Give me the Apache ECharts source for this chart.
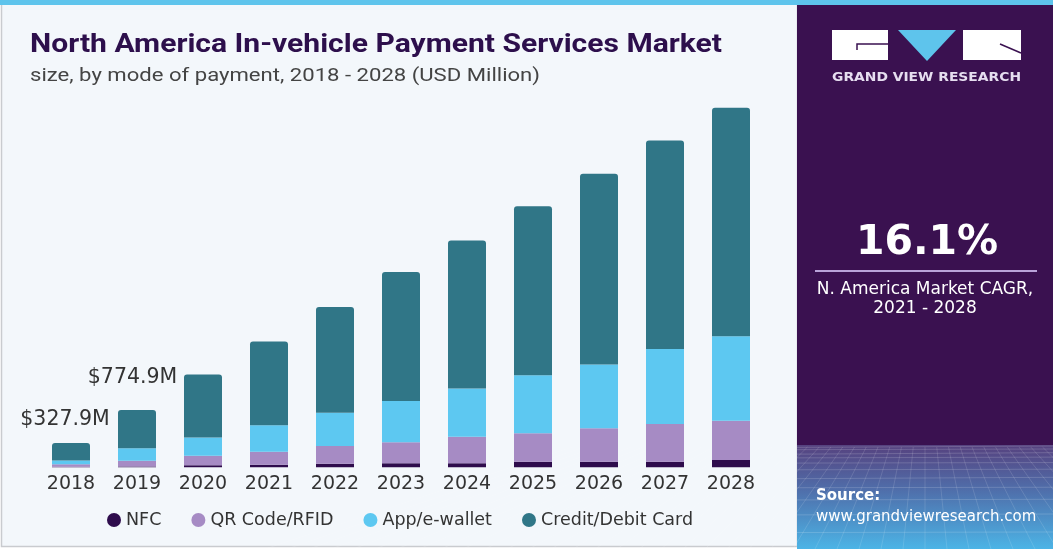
<!DOCTYPE html>
<html>
<head>
<meta charset="utf-8">
<script src="https://cdn.jsdelivr.net/npm/echarts@6/dist/echarts.min.js"></script>
<style>
  html, body { margin: 0; padding: 0; background: #ffffff; }
  #chart { width: 1053px; height: 549px; }
</style>
</head>
<body>
<div id="chart"></div>
<script>
// ---- data ----
const years = ['2018','2019','2020','2021','2022','2023','2024','2025','2026','2027','2028'];
const seriesNames = ['NFC', 'QR Code/RFID', 'App/e-wallet', 'Credit/Debit Card'];
const nfc    = [6.2,   9.5,  27,  35,  49,  54,  54,  76,  76,  76,  99];
const qrRfid = [35.8, 79.8, 130, 176, 239, 284, 359, 383, 451, 509, 531];
const appWallet = [51.2, 167.6, 246, 357, 450, 558, 653, 787, 864, 1013, 1143];
const creditDebit = [234.7, 518.0, 853, 1134, 1431, 1746, 2002, 2282, 2579, 2822, 3087];
const totalLabels = ['$327.9M', '$774.9M'];
const cagrValue = '16.1%';
const cagrText = ['N. America Market CAGR,', '2021 - 2028'];
const titleText = 'North America In-vehicle Payment Services Market';
const subtitleText = 'size, by mode of payment, 2018 - 2028 (USD Million)';

// ---- helpers ----
const mctx = document.createElement('canvas').getContext('2d');
function fitScale(text, font, targetWidth) {
  mctx.font = font;
  const w = mctx.measureText(text).width;
  return w > 0 ? targetWidth / w : 1;
}

const colors = ['#2e0c4c', '#a68bc4', '#5dc8f1', '#307687'];
const labelOffsets = [[-6, -8], [-4.5, -17]];

const creditData = creditDebit.map((v, i) => {
  if (i < totalLabels.length) {
    return {
      value: v,
      label: {
        show: true, position: 'top', formatter: totalLabels[i],
        offset: labelOffsets[i], color: '#333333',
        fontSize: 20.5, fontFamily: 'DejaVu Sans'
      }
    };
  }
  return v;
});

const titleFont = 'bold 26px Roboto';
const subFont = '19px Roboto';
const logoFont = 'bold 13px "DejaVu Sans"';

// decorative perspective grid for the lower right panel
const gridLines = [];
(function () {
  const x0 = 797, x1 = 1053, yTop = 447, yBot = 549;
  let y = yTop, step = 3;
  while (y < yBot) {
    gridLines.push({ type: 'line', z: -6, silent: true,
      shape: { x1: x0, y1: y + 0.5 * Math.sin(y), x2: x1, y2: y - 1 },
      style: { stroke: 'rgba(255,255,255,0.16)', lineWidth: 1 } });
    y += step; step *= 1.22;
  }
  const vx = 925, vy = 330;
  for (let k = -30; k <= 30; k++) {
    const bx = vx + k * 22;
    const t = (yTop - vy) / (yBot - vy);
    const tx = vx + (bx - vx) * t;
    gridLines.push({ type: 'line', z: -6, silent: true,
      shape: { x1: tx, y1: yTop, x2: bx, y2: yBot },
      style: { stroke: 'rgba(255,255,255,0.13)', lineWidth: 1 } });
  }
})();

const chart = echarts.init(document.getElementById('chart'), null, { renderer: 'canvas' });

const option = {
  animation: false,
  backgroundColor: '#ffffff',
  graphic: [
    // left panel
    { type: 'rect', z: -10, shape: { x: 1.5, y: 4, width: 796, height: 542.5 },
      style: { fill: '#f3f7fb', stroke: '#c9cbcf', lineWidth: 1.5 } },
    // right panel
    { type: 'rect', z: -9, shape: { x: 797, y: 0, width: 256, height: 549 },
      style: { fill: '#3a1150' } },
    { type: 'rect', z: -8, shape: { x: 797, y: 445, width: 256, height: 104 },
      style: { fill: new echarts.graphic.LinearGradient(0, 0, 0, 1, [
        { offset: 0, color: '#56427f' },
        { offset: 0.45, color: '#4f70ac' },
        { offset: 1, color: '#4cb4e6' }
      ]) } },
    { type: 'group', z: -6, children: gridLines },
    // top strip
    { type: 'rect', z: -5, shape: { x: 0, y: 0, width: 1053, height: 5 },
      style: { fill: '#5ec4ec' } },
    // logo
    { type: 'rect', z: 5, shape: { x: 832, y: 30, width: 56, height: 30 }, style: { fill: '#ffffff' } },
    { type: 'polyline', z: 6, shape: { points: [[888, 44], [857, 44], [857, 50]] },
      style: { stroke: '#3a1150', lineWidth: 1.5, fill: null } },
    { type: 'polygon', z: 5, shape: { points: [[898, 30], [956, 30], [927, 61]] }, style: { fill: '#5ec4ec' } },
    { type: 'rect', z: 5, shape: { x: 963, y: 30, width: 58, height: 30 }, style: { fill: '#ffffff' } },
    { type: 'line', z: 6, shape: { x1: 1000, y1: 44, x2: 1021, y2: 53 },
      style: { stroke: '#3a1150', lineWidth: 1.5 } },
    { type: 'text', z: 5, x: 832, y: 78, scaleX: fitScale('GRAND VIEW RESEARCH', logoFont, 189), originX: 0,
      style: { text: 'GRAND VIEW RESEARCH', font: logoFont, fill: '#e6def0',
        textAlign: 'left', textVerticalAlign: 'middle' } },
    // CAGR
    { type: 'text', z: 5, x: 927, y: 243,
      style: { text: cagrValue, font: 'bold 41px "DejaVu Sans"', fill: '#ffffff',
        textAlign: 'center', textVerticalAlign: 'middle' } },
    { type: 'line', z: 5, shape: { x1: 815, y1: 271, x2: 1037, y2: 271 },
      style: { stroke: '#b9a3d9', lineWidth: 2 } },
    { type: 'text', z: 5, x: 925, y: 290,
      style: { text: cagrText[0], font: '17px "DejaVu Sans"', fill: '#ffffff',
        textAlign: 'center', textVerticalAlign: 'middle' } },
    { type: 'text', z: 5, x: 925, y: 309,
      style: { text: cagrText[1], font: '17px "DejaVu Sans"', fill: '#ffffff',
        textAlign: 'center', textVerticalAlign: 'middle' } },
    // source
    { type: 'text', z: 5, x: 816, y: 496,
      style: { text: 'Source:', font: 'bold 15px "DejaVu Sans"', fill: '#ffffff',
        textAlign: 'left', textVerticalAlign: 'middle' } },
    { type: 'text', z: 5, x: 816, y: 517,
      style: { text: 'www.grandviewresearch.com', font: '15px "DejaVu Sans"', fill: '#ffffff',
        textAlign: 'left', textVerticalAlign: 'middle' } },
    // titles
    { type: 'text', z: 5, x: 30, y: 45, scaleX: fitScale(titleText, titleFont, 692), originX: 0,
      style: { text: titleText, font: titleFont, fill: '#2d0f4c',
        textAlign: 'left', textVerticalAlign: 'middle' } },
    { type: 'text', z: 5, x: 30, y: 76, scaleX: fitScale(subtitleText, subFont, 510), originX: 0,
      style: { text: subtitleText, font: subFont, fill: '#444444',
        textAlign: 'left', textVerticalAlign: 'middle' } }
  ],
  legend: {
    data: seriesNames,
    left: 102, top: 506,
    icon: 'circle',
    itemWidth: 14, itemHeight: 14, itemGap: 30,
    textStyle: { color: '#333333', fontSize: 17.5, fontFamily: 'DejaVu Sans' }
  },
  grid: { left: 38, top: 97.5, width: 726, height: 369.8 },
  xAxis: {
    type: 'category', data: years,
    axisLine: { show: false }, axisTick: { show: false },
    axisLabel: { color: '#333333', fontSize: 19, fontFamily: 'DejaVu Sans', margin: 7 }
  },
  yAxis: { type: 'value', min: 0, max: 5000, show: false, splitLine: { show: false } },
  series: [
    { name: seriesNames[0], type: 'bar', stack: 'total', barWidth: 38, data: nfc,
      itemStyle: { color: colors[0] } },
    { name: seriesNames[1], type: 'bar', stack: 'total', barWidth: 38, data: qrRfid,
      itemStyle: { color: colors[1] } },
    { name: seriesNames[2], type: 'bar', stack: 'total', barWidth: 38, data: appWallet,
      itemStyle: { color: colors[2] } },
    { name: seriesNames[3], type: 'bar', stack: 'total', barWidth: 38, data: creditData,
      itemStyle: { color: colors[3], borderRadius: [3, 3, 0, 0] } }
  ]
};
chart.setOption(option);
</script>
</body>
</html>
